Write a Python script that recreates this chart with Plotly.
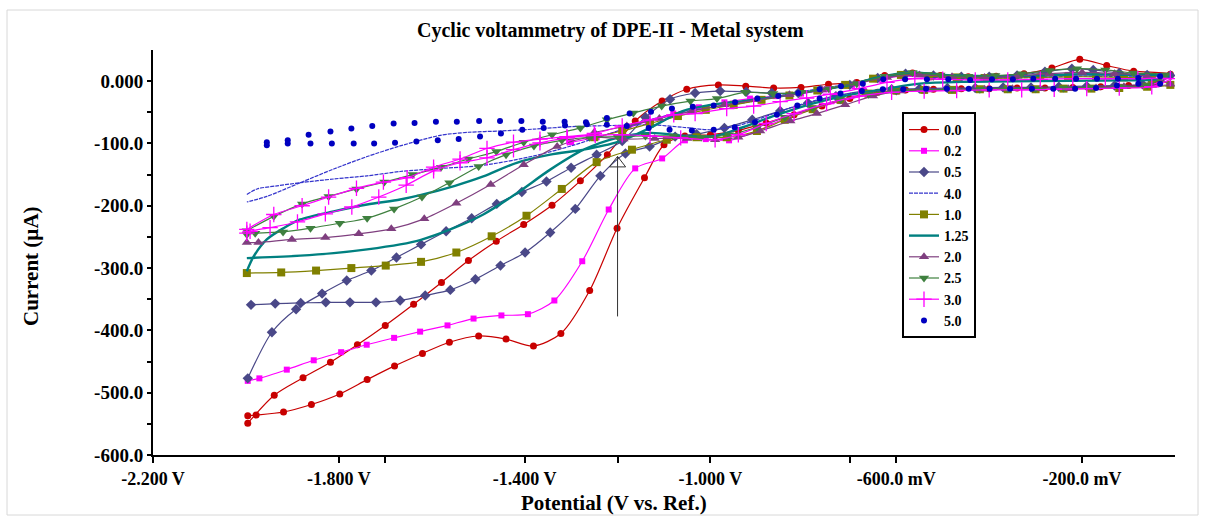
import plotly.graph_objects as go

# ---------------- text / axes ----------------
TITLE = "Cyclic voltammetry of DPE-II - Metal system"
X_TITLE = "Potential (V vs. Ref.)"
Y_TITLE = "Current (µA)"
X_TICKS = [-2.2, -1.8, -1.4, -1.0, -0.6, -0.2]
X_TICK_TEXT = ["-2.200 V", "-1.800 V", "-1.400 V", "-1.000 V", "-600.0 mV", "-200.0 mV"]
X_MINOR = [-1.7, -1.2, -0.7]
Y_TICKS = [0, -100, -200, -300, -400, -500, -600]
Y_TICK_TEXT = ["0.000", "-100.0", "-200.0", "-300.0", "-400.0", "-500.0", "-600.0"]
Y_MINOR = [-50, -150, -250, -350, -450, -550]
X_RANGE = [-2.2, 0.0]
Y_RANGE = [-600, 50]
ARROW_V = -1.2
ARROW_FROM = -380
ARROW_TO = -121
ARROW_HEAD = -132

# ---------------- data: (potential V, current µA) ----------------
CV_0_0 = [(-1.996,-549),(-1.939,-504),(-1.877,-476),(-1.818,-451),(-1.760,-423),(-1.700,-392),(-1.639,-358),
          (-1.579,-323),(-1.521,-288),(-1.461,-257),(-1.402,-230),(-1.341,-199),(-1.280,-160),(-1.222,-118),
          (-1.162,-64),(-1.104,-32),(-1.051,-13),(-0.983,-6),(-0.924,-8),(-0.864,-11),(-0.805,-10),(-0.746,-5),
          (-0.685,-2),(-0.625,9),(-0.565,13),(-0.505,9),(-0.445,7),(-0.385,8),(-0.325,12),(-0.265,21),(-0.205,35),
          (-0.147,25),(-0.089,16),(-0.010,11),
          (-0.040,-4),(-0.100,-7),(-0.160,-9),(-0.220,-10),(-0.280,-11),(-0.340,-11),(-0.400,-12),(-0.460,-12),
          (-0.520,-13),(-0.580,-14),(-0.640,-18),(-0.700,-28),(-0.760,-40),(-0.820,-54),(-0.880,-67),(-0.940,-79),
          (-1.000,-86),(-1.055,-88),(-1.100,-102),(-1.142,-155),(-1.201,-236),(-1.260,-336),(-1.322,-405),
          (-1.381,-425),(-1.440,-414),(-1.499,-409),(-1.562,-419),(-1.620,-437),(-1.680,-457),(-1.739,-479),
          (-1.798,-502),(-1.859,-519),(-1.919,-531),(-1.978,-536),(-1.996,-537)]

CV_0_2 = [(-1.300,-98),(-1.245,-90),(-1.190,-78),(-1.135,-64),(-1.080,-52),(-1.025,-42),(-0.970,-34),(-0.915,-28),
          (-0.860,-24),(-0.805,-20),(-0.750,-13),(-0.695,-6),(-0.640,3),(-0.585,8),(-0.530,6),(-0.470,5),(-0.410,5),
          (-0.350,6),(-0.290,8),(-0.230,10),(-0.170,10),(-0.110,9),(-0.050,8),(-0.010,8),
          (-0.060,-8),(-0.120,-9),(-0.180,-11),(-0.240,-12),(-0.300,-13),(-0.360,-13),(-0.420,-14),(-0.480,-14),
          (-0.540,-15),(-0.600,-17),(-0.660,-22),(-0.720,-32),(-0.780,-45),(-0.840,-60),(-0.900,-80),(-0.960,-95),
          (-1.010,-93),(-1.055,-95),(-1.104,-124),(-1.162,-140),(-1.219,-206),(-1.276,-289),(-1.336,-352),
          (-1.393,-374),(-1.450,-376),(-1.510,-381),(-1.566,-392),(-1.625,-402),(-1.681,-412),(-1.740,-423),
          (-1.795,-435),(-1.854,-448),(-1.912,-463),(-1.971,-477),(-1.996,-481)]

CV_0_5 = [(-1.996,-477),(-1.944,-403),(-1.892,-366),(-1.836,-341),(-1.783,-320),(-1.730,-304),(-1.676,-283),
          (-1.623,-262),(-1.569,-241),(-1.514,-220),(-1.460,-197),(-1.406,-178),(-1.353,-161),(-1.300,-139),
          (-1.245,-118),(-1.190,-96),(-1.140,-58),(-1.087,-29),(-1.033,-19),(-0.979,-16),(-0.923,-17),(-0.868,-19),
          (-0.811,-19),(-0.763,-14),(-0.700,-6),(-0.640,5),(-0.580,12),(-0.520,9),(-0.460,7),(-0.400,7),(-0.340,9),
          (-0.280,15),(-0.222,20),(-0.176,18),(-0.120,13),(-0.060,10),(-0.010,9),
          (-0.070,-5),(-0.130,-7),(-0.190,-8),(-0.250,-9),(-0.310,-10),(-0.370,-10),(-0.430,-11),(-0.490,-11),
          (-0.550,-12),(-0.610,-13),(-0.670,-16),(-0.730,-24),(-0.790,-35),(-0.850,-48),(-0.910,-62),(-0.970,-75),
          (-1.030,-85),(-1.076,-89),(-1.131,-105),(-1.183,-116),(-1.237,-152),(-1.291,-205),(-1.345,-243),
          (-1.399,-275),(-1.452,-296),(-1.506,-318),(-1.560,-335),(-1.614,-344),(-1.668,-352),(-1.720,-355),
          (-1.776,-355),(-1.828,-355),(-1.882,-356),(-1.937,-357),(-1.989,-359)]

CV_4_0 = [(-1.998,-182),(-1.976,-173),(-1.933,-168),(-1.883,-163),(-1.811,-157),(-1.739,-152),(-1.668,-145),
          (-1.600,-141),(-1.489,-135),(-1.380,-120),(-1.300,-104),(-1.250,-92),(-1.200,-80),(-1.130,-62),
          (-1.060,-50),(-1.000,-42),(-0.930,-35),(-0.860,-25),(-0.790,-15),(-0.720,-7),(-0.650,3),(-0.580,9),
          (-0.500,6),(-0.400,5),(-0.300,6),(-0.200,8),(-0.100,7),(-0.020,6),
          (-0.040,-6),(-0.100,-9),(-0.200,-11),(-0.300,-12),(-0.400,-12),(-0.500,-13),(-0.600,-15),(-0.700,-20),
          (-0.780,-32),(-0.850,-48),(-0.900,-62),(-0.950,-73),(-1.000,-78),(-1.060,-74),(-1.130,-70),(-1.200,-71),
          (-1.300,-73),(-1.380,-77),(-1.453,-80),(-1.520,-82),(-1.582,-87),(-1.668,-104),(-1.739,-121),
          (-1.811,-141),(-1.883,-163),(-1.955,-185),(-1.998,-194)]

CV_1_0 = [(-1.998,-308),(-1.924,-307),(-1.849,-304),(-1.773,-300),(-1.699,-296),(-1.623,-290),(-1.547,-275),
          (-1.471,-249),(-1.396,-216),(-1.320,-173),(-1.245,-130),(-1.169,-110),(-1.094,-94),(-1.030,-90),
          (-0.965,-90),(-0.900,-80),(-0.840,-62),(-0.780,-45),(-0.720,-30),(-0.660,-20),(-0.600,-15),(-0.540,-14),
          (-0.480,-14),(-0.420,-13),(-0.360,-13),(-0.300,-13),(-0.240,-12),(-0.180,-12),(-0.120,-11),(-0.060,-9),
          (-0.010,-6),
          (-0.050,4),(-0.110,6),(-0.170,7),(-0.230,7),(-0.290,6),(-0.350,5),(-0.410,5),(-0.470,6),(-0.530,8),
          (-0.590,10),(-0.650,4),(-0.710,-6),(-0.770,-15),(-0.830,-23),(-0.890,-30),(-0.950,-38),(-1.010,-46),
          (-1.070,-56),(-1.130,-68),(-1.190,-80),(-1.250,-90)]

CV_1_25 = [(-1.998,-305),(-1.983,-281),(-1.955,-254),(-1.919,-236),(-1.883,-222),(-1.811,-209),(-1.739,-198),
           (-1.668,-190),(-1.625,-183),(-1.550,-168),(-1.489,-153),(-1.417,-131),(-1.345,-118),(-1.273,-110),
           (-1.201,-98),(-1.130,-75),(-1.060,-48),(-1.000,-38),(-0.930,-32),(-0.850,-24),(-0.780,-16),(-0.700,-6),
           (-0.640,6),(-0.570,14),(-0.500,10),(-0.400,8),(-0.300,9),(-0.200,11),(-0.100,10),(-0.010,9),
           (-0.040,3),(-0.150,1),(-0.300,0),(-0.450,-1),(-0.550,-4),(-0.620,-12),(-0.700,-22),(-0.780,-36),
           (-0.860,-55),(-0.930,-74),(-0.990,-88),(-1.050,-88),(-1.130,-83),(-1.201,-91),(-1.273,-110),
           (-1.345,-142),(-1.417,-180),(-1.489,-214),(-1.560,-238),(-1.625,-255),(-1.668,-262),(-1.739,-270),
           (-1.811,-276),(-1.883,-280),(-1.998,-284)]

CV_2_0 = [(-1.998,-259),(-1.973,-259),(-1.901,-254),(-1.829,-251),(-1.757,-245),(-1.687,-237),(-1.616,-221),
          (-1.547,-196),(-1.473,-166),(-1.402,-134),(-1.330,-105),(-1.259,-90),(-1.187,-93),(-1.120,-92),
          (-1.050,-92),(-0.990,-94),(-0.940,-90),(-0.893,-80),(-0.828,-64),(-0.771,-52),(-0.710,-38),(-0.650,-24),
          (-0.590,-16),(-0.530,-14),(-0.470,-13),(-0.410,-13),(-0.350,-12),(-0.290,-12),(-0.230,-12),(-0.170,-11),
          (-0.110,-9),(-0.050,-7),(-0.010,-5),
          (-0.060,8),(-0.130,12),(-0.200,14),(-0.270,12),(-0.340,8),(-0.410,6),(-0.480,7),(-0.550,10),(-0.620,6),
          (-0.690,-4),(-0.760,-14),(-0.830,-22),(-0.900,-30),(-0.970,-38),(-1.040,-48),(-1.110,-60),(-1.180,-72),
          (-1.250,-82)]

CV_2_5 = [(-1.998,-240),(-1.940,-217),(-1.879,-197),(-1.822,-185),(-1.762,-173),(-1.702,-162),(-1.641,-150),
          (-1.580,-138),(-1.521,-125),(-1.461,-113),(-1.402,-98),(-1.341,-86),(-1.280,-75),(-1.223,-62),
          (-1.166,-51),(-1.105,-40),(-1.043,-32),(-0.986,-28),(-0.925,-18),(-0.865,-20),(-0.805,-18),(-0.745,-12),
          (-0.685,-4),(-0.625,8),(-0.565,14),(-0.505,10),(-0.445,8),(-0.387,9),(-0.330,12),(-0.270,17),(-0.211,20),
          (-0.150,18),(-0.090,13),(-0.020,10),
          (-0.060,-7),(-0.120,-9),(-0.180,-10),(-0.240,-11),(-0.300,-12),(-0.360,-12),(-0.420,-13),(-0.480,-13),
          (-0.540,-14),(-0.600,-16),(-0.660,-21),(-0.720,-30),(-0.780,-43),(-0.840,-58),(-0.900,-74),(-0.960,-86),
          (-1.020,-90),(-1.080,-88),(-1.140,-88),(-1.200,-89),(-1.260,-90),(-1.320,-95),(-1.380,-104),(-1.440,-118),
          (-1.499,-137),(-1.562,-163),(-1.621,-186),(-1.681,-205),(-1.739,-220),(-1.798,-228),(-1.861,-236),
          (-1.920,-242),(-1.980,-244),(-1.998,-246)]

CV_3_0 = [(-1.998,-238),(-1.940,-214),(-1.879,-200),(-1.822,-186),(-1.762,-172),(-1.704,-162),(-1.653,-155),
          (-1.596,-138),(-1.539,-125),(-1.481,-108),(-1.424,-98),(-1.367,-93),(-1.309,-89),(-1.250,-84),
          (-1.190,-72),(-1.130,-62),(-1.079,-54),(-1.033,-52),(-0.965,-44),(-0.907,-40),(-0.850,-33),(-0.793,-27),
          (-0.742,-21),(-0.680,-12),(-0.620,-2),(-0.560,4),(-0.500,3),(-0.430,2),(-0.360,2),(-0.290,3),(-0.220,4),
          (-0.150,4),(-0.080,4),(-0.010,4),
          (-0.050,-9),(-0.120,-11),(-0.190,-12),(-0.260,-13),(-0.330,-14),(-0.400,-14),(-0.470,-15),(-0.540,-16),
          (-0.610,-18),(-0.680,-24),(-0.750,-36),(-0.820,-52),(-0.880,-68),(-0.940,-86),(-0.990,-94),(-1.064,-91),
          (-1.130,-88),(-1.190,-86),(-1.248,-87),(-1.308,-91),(-1.367,-99),(-1.424,-110),(-1.481,-123),
          (-1.539,-131),(-1.596,-144),(-1.655,-167),(-1.714,-186),(-1.772,-202),(-1.829,-213),(-1.889,-226),
          (-1.948,-235),(-1.991,-241),(-1.998,-244)]

CV_5_0 = [(-1.955,-98),(-1.910,-95),(-1.865,-86),(-1.818,-81),(-1.773,-76),(-1.728,-72),(-1.682,-68),(-1.637,-67),
          (-1.591,-65),(-1.546,-65),(-1.498,-64),(-1.453,-64),(-1.407,-64),(-1.361,-65),(-1.314,-65),(-1.268,-66),
          (-1.223,-59),(-1.174,-52),(-1.128,-49),(-1.083,-44),(-1.038,-41),(-0.993,-39),(-0.947,-34),(-0.899,-28),
          (-0.854,-24),(-0.811,-19),(-0.765,-13),(-0.719,-8),(-0.672,-4),(-0.628,3),(-0.581,3),(-0.534,3),
          (-0.488,3),(-0.441,2),(-0.394,3),(-0.349,3),(-0.305,4),(-0.258,4),(-0.213,4),(-0.168,4),(-0.123,4),
          (-0.079,5),(-0.032,8),
          (-0.032,-4),(-0.079,-4),(-0.125,-7),(-0.170,-11),(-0.215,-12),(-0.262,-12),(-0.308,-12),(-0.355,-12),
          (-0.399,-12),(-0.444,-12),(-0.491,-12),(-0.536,-12),(-0.585,-13),(-0.629,-13),(-0.674,-16),(-0.720,-20),
          (-0.765,-28),(-0.813,-39),(-0.857,-54),(-0.904,-66),(-0.948,-74),(-0.993,-78),(-1.040,-79),(-1.088,-78),
          (-1.133,-75),(-1.180,-72),(-1.223,-70),(-1.266,-69),(-1.313,-71),(-1.359,-75),(-1.405,-78),(-1.451,-84),
          (-1.496,-89),(-1.542,-93),(-1.587,-95),(-1.633,-97),(-1.679,-99),(-1.724,-100),(-1.768,-100),
          (-1.815,-100),(-1.861,-100),(-1.910,-100),(-1.955,-103)]

SERIES_NAMES = ["0.0", "0.2", "0.5", "4.0", "1.0", "1.25", "2.0", "2.5", "3.0", "5.0"]
SERIES_DATA = [CV_0_0, CV_0_2, CV_0_5, CV_4_0, CV_1_0, CV_1_25, CV_2_0, CV_2_5, CV_3_0, CV_5_0]

# ---------------- styles ----------------
STYLES = {
    "0.0":  dict(color="#C80000", symbol="circle", size=7, width=1.2, dash="solid", mode="lines+markers"),
    "0.2":  dict(color="#FF00FF", symbol="square", size=6, width=1.2, dash="solid", mode="lines+markers"),
    "0.5":  dict(color="#4A4888", symbol="diamond", size=8, width=1.2, dash="solid", mode="lines+markers"),
    "4.0":  dict(color="#3535CC", symbol="circle", size=1, width=1.2, dash="4px,1px", mode="lines"),
    "1.0":  dict(color="#808000", symbol="square", size=8, width=1.2, dash="solid", mode="lines+markers"),
    "1.25": dict(color="#008080", symbol="circle", size=1, width=2.4, dash="solid", mode="lines"),
    "2.0":  dict(color="#7F3F7F", symbol="triangle-up", size=9, width=1.2, dash="solid", mode="lines+markers"),
    "2.5":  dict(color="#3F803F", symbol="triangle-down", size=9, width=1.2, dash="solid", mode="lines+markers"),
    "3.0":  dict(color="#FF00FF", symbol="cross-thin", size=11, width=1.2, dash="solid", mode="lines+markers"),
    "5.0":  dict(color="#0000C0", symbol="circle", size=6, width=1, dash="solid", mode="markers"),
}

FONT = "Liberation Serif, Times New Roman, serif"

fig = go.Figure()
for name, data in zip(SERIES_NAMES, SERIES_DATA):
    st = STYLES[name]
    xs = [p[0] for p in data]
    ys = [p[1] for p in data]
    marker = dict(symbol=st["symbol"], size=st["size"], color=st["color"],
                  line=dict(width=0))
    if st["symbol"] == "cross-thin":
        marker["line"] = dict(width=1.3, color=st["color"])
    fig.add_trace(go.Scatter(
        x=xs, y=ys, name=name, mode=st["mode"],
        line=dict(color=st["color"], width=st["width"], dash=st["dash"],
                  shape="spline", smoothing=0.8),
        marker=marker,
    ))

# arrow (open triangle head)
fig.add_annotation(x=ARROW_V, y=ARROW_TO, ax=ARROW_V, ay=ARROW_FROM,
                   xref="x", yref="y", axref="x", ayref="y",
                   showarrow=True, arrowhead=0, arrowwidth=1, arrowcolor="#333333", text="")
fig.add_trace(go.Scatter(x=[ARROW_V], y=[ARROW_HEAD], mode="markers", showlegend=False,
                         hoverinfo="skip",
                         marker=dict(symbol="triangle-up-open", size=14, color="#333333",
                                     line=dict(width=1, color="#333333"))))

L, R, T, B = 153, 30, 50, 61
W, H = 1205, 516
PW, PH = W - L - R, H - T - B


def px_to_paper(px, py):
    return (px - L) / PW, (H - B - py) / PH


# title + axis titles
tx, ty = px_to_paper(610, 30)
fig.add_annotation(x=tx, y=ty, xref="paper", yref="paper", text=TITLE, showarrow=False,
                   font=dict(family=FONT, size=20, color="black", weight="bold"),
                   xanchor="center", yanchor="middle")
ax_, ay_ = px_to_paper(614, 503)
fig.add_annotation(x=ax_, y=ay_, xref="paper", yref="paper", text=X_TITLE, showarrow=False,
                   font=dict(family=FONT, size=21, color="black", weight="bold"),
                   xanchor="center", yanchor="middle")
yx_, yy_ = px_to_paper(31, 266)
fig.add_annotation(x=yx_, y=yy_, xref="paper", yref="paper", text=Y_TITLE, showarrow=False,
                   textangle=-90,
                   font=dict(family=FONT, size=21, color="black", weight="bold"),
                   xanchor="center", yanchor="middle")

# light frame around the picture
fx0, fy0 = px_to_paper(7, 10)
fx1, fy1 = px_to_paper(1198, 515)
fig.add_shape(type="rect", xref="paper", yref="paper", x0=fx0, y0=fy1, x1=fx1, y1=fy0,
              line=dict(color="#d8d8d8", width=1), fillcolor="rgba(0,0,0,0)", layer="below")

lx, ly = px_to_paper(902, 112)
fig.update_layout(
    width=W, height=H,
    margin=dict(l=L, r=R, t=T, b=B, pad=0),
    paper_bgcolor="white", plot_bgcolor="white",
    showlegend=True,
    legend=dict(x=lx, y=ly, xanchor="left", yanchor="top",
                bgcolor="white", bordercolor="black", borderwidth=2,
                font=dict(family=FONT, size=14, color="black", weight="bold"),
                tracegroupgap=0, itemwidth=30),
    xaxis=dict(range=X_RANGE, tickvals=X_TICKS, ticktext=X_TICK_TEXT,
               showgrid=False, zeroline=False, showline=True, linecolor="black", linewidth=2,
               ticks="outside", ticklen=6, tickwidth=2, tickcolor="black",
               tickfont=dict(family=FONT, size=18, color="black", weight="bold"),
               minor=dict(tickvals=X_MINOR, ticks="outside", ticklen=6, tickwidth=2, tickcolor="black"),
               fixedrange=True),
    yaxis=dict(range=Y_RANGE, tickvals=Y_TICKS, ticktext=Y_TICK_TEXT,
               showgrid=False, zeroline=False, showline=True, linecolor="black", linewidth=2,
               ticks="outside", ticklen=4, tickwidth=2, tickcolor="black",
               tickfont=dict(family=FONT, size=19, color="black", weight="bold"),
               minor=dict(tickvals=Y_MINOR, ticks="outside", ticklen=4, tickwidth=2, tickcolor="black"),
               fixedrange=True),
)

fig.write_html("out.html")
